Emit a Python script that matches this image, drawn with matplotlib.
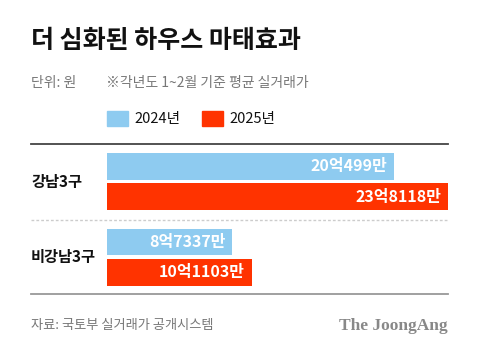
import matplotlib
matplotlib.use("Agg")
import matplotlib.pyplot as plt
from matplotlib.patches import Rectangle
import numpy as np

plt.rcParams["font.family"] = ["Noto Sans CJK KR", "DejaVu Sans"]

# data (unit: 만원)
regions = ["강남3구", "비강남3구"]
years = ["2024년", "2025년"]
price_2024 = [200499, 87337]
price_2025 = [238118, 101103]
colors = ["#8ecbf0", "#ff3300"]


def fmt(v):
    return f"{v // 10000}억{v % 10000}만"


W, H = 480, 355
fig = plt.figure(figsize=(W / 100, H / 100), dpi=100)


def fx(px):
    return px / W


def fy(py):
    return 1 - py / H


# header
fig.text(fx(31), fy(41.5), "더 심화된 하우스 마태효과", fontsize=18,
         fontweight=900, color="#111111", va="center", ha="left")
fig.text(fx(31), fy(83), "단위: 원", fontsize=10, color="#777777",
         va="center", ha="left")
fig.text(fx(106), fy(83), "※각년도 1~2월 기준 평균 실거래가", fontsize=10,
         color="#777777", va="center", ha="left")

# legend
for x0, lab, c in zip([107, 202], years, colors):
    fig.patches.append(Rectangle((fx(x0), fy(126)), fx(21), 15 / H,
                                 transform=fig.transFigure, color=c))
    fig.text(fx(x0 + 27), fy(118.5), lab, fontsize=10.5, color="#111111",
             va="center", ha="left")

# bars
ax = fig.add_axes([fx(107), fy(294), fx(341), (294 - 144) / H])
y = np.arange(len(regions))
h = 0.357
off = 0.199
ax.barh(y - off, price_2024, height=h, color=colors[0])
ax.barh(y + off, price_2025, height=h, color=colors[1])
ax.set_xlim(0, max(price_2025))
ax.set_ylim(1.49, -0.497)
ax.axis("off")

pad = max(price_2025) * 0.02
lab_tr = matplotlib.transforms.blended_transform_factory(fig.transFigure, ax.transData)
for i in range(len(regions)):
    ax.text(price_2024[i] - pad, y[i] - off, fmt(price_2024[i]), color="white",
            fontsize=11.5, fontweight="bold", ha="right", va="center")
    ax.text(price_2025[i] - pad, y[i] + off, fmt(price_2025[i]), color="white",
            fontsize=11.5, fontweight="bold", ha="right", va="center")
    fig.text(fx(31), y[i], regions[i], fontsize=11, fontweight="bold",
             color="#111111", ha="left", va="center", transform=lab_tr)

# rules
xl = (31 - 107) / 341
ax.axhline(-0.497, xmin=xl, xmax=1, color="#444444", lw=1.3, clip_on=False)
ax.axhline(1.49, xmin=xl, xmax=1, color="#999999", lw=1.3, clip_on=False)
ax.axhline(0.51, xmin=xl, xmax=1, color="#cccccc", lw=1, ls=(0, (2, 1.5)),
           clip_on=False)

# footer
fig.text(fx(31), fy(326), "자료: 국토부 실거래가 공개시스템", fontsize=9.5,
         color="#777777", ha="left", va="center")
fig.text(fx(448), fy(326), "The JoongAng", fontsize=12.5, fontweight="bold",
         family="Liberation Serif", color="#888888", ha="right", va="center")

fig.savefig("out.png", dpi=100)
